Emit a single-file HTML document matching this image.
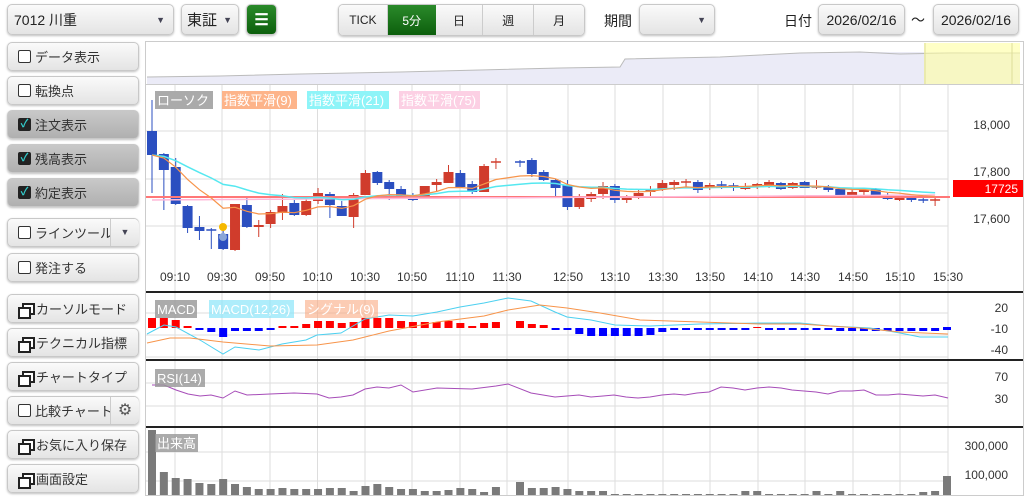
<!DOCTYPE html>
<html><head><meta charset="utf-8"><style>
*{box-sizing:border-box}
body{margin:0;width:1024px;height:499px;background:#fff;font-family:"Liberation Sans","Noto Sans CJK JP",sans-serif;position:relative;overflow:hidden;color:#222}
.b{position:absolute;border:1px solid #c8c8c8;border-radius:5px;background:linear-gradient(#fafafa,#e4e4e4);box-shadow:0 1px 2px rgba(0,0,0,.25);font-size:13px;display:flex;align-items:center}
.side{left:7px;width:132px;height:29px;padding-left:10px;color:#333}
.chk .box{width:13px;height:13px;border:1px solid #333;border-radius:2px;background:#fff;margin-right:4px;flex:none}
.on{background:linear-gradient(#c8c8c8,#b0b0b0)}
.on .box{background:#222;border-color:#222;color:#3cc;font-size:11px;line-height:11px;text-align:center;font-weight:bold}
.ic{width:14px;height:12px;position:relative;margin-right:4px;flex:none}
.ic:before{content:"";position:absolute;left:4px;top:0;width:9px;height:8px;border:2px solid #222;background:#fff}
.ic:after{content:"";position:absolute;left:0;top:4px;width:9px;height:8px;border:2px solid #222;background:#fff}
.t{position:absolute;font-size:13px}
.seg{position:absolute;top:5px;height:30px;border:1px solid #c8c8c8;background:linear-gradient(#fafafa,#e4e4e4);font-size:12px;display:flex;align-items:center;justify-content:center}
</style></head><body>
<div class="b" style="left:7px;top:4px;width:167px;height:31px;padding-left:6px;font-size:14px">7012 川重<span style="position:absolute;right:8px;font-size:9px;color:#445">▼</span></div>
<div class="b" style="left:181px;top:4px;width:58px;height:31px;padding-left:5px;font-size:15px">東証<span style="position:absolute;right:6px;font-size:9px;color:#445">▼</span></div>
<div class="b" style="left:246px;top:4px;width:31px;height:31px;background:linear-gradient(#2a8a2a,#0d5f0d);justify-content:center;color:#fff;font-size:16px;font-weight:bold">☰</div>
<div class="b" style="left:338px;top:4px;width:247px;height:32px;padding:0;overflow:hidden">
<div class="seg" style="position:static;width:49px;height:30px;border:0;border-right:1px solid #ccc">TICK</div>
<div class="seg" style="position:static;width:48px;height:30px;border:0;background:linear-gradient(#2a8a2a,#0d5f0d);color:#fff">5分</div>
<div class="seg" style="position:static;width:48px;height:30px;border:0;border-right:1px solid #ccc">日</div>
<div class="seg" style="position:static;width:51px;height:30px;border:0;border-right:1px solid #ccc">週</div>
<div class="seg" style="position:static;width:50px;height:30px;border:0">月</div></div>
<div class="t" style="left:604px;top:11px;font-size:14px">期間</div>
<div class="b" style="left:639px;top:4px;width:76px;height:31px"><span style="position:absolute;right:8px;font-size:9px;color:#445">▼</span></div>
<div class="t" style="left:784px;top:11px;font-size:14px">日付</div>
<div class="b" style="left:818px;top:4px;width:87px;height:31px;justify-content:center;font-size:14px">2026/02/16</div>
<div class="t" style="left:911px;top:10px;font-size:14px">～</div>
<div class="b" style="left:933px;top:4px;width:86px;height:31px;justify-content:center;font-size:14px">2026/02/16</div>

<div class="b side chk" style="top:42px"><span class="box"></span>データ表示</div>
<div class="b side chk" style="top:76px"><span class="box"></span>転換点</div>
<div class="b side chk on" style="top:110px"><span class="box">✓</span>注文表示</div>
<div class="b side chk on" style="top:144px"><span class="box">✓</span>残高表示</div>
<div class="b side chk on" style="top:178px"><span class="box">✓</span>約定表示</div>
<div class="b side chk" style="top:218px"><span class="box"></span>ラインツール<span style="position:absolute;left:102px;top:0;bottom:0;border-left:1px solid #ccc;width:29px;text-align:center;font-size:9px;line-height:27px;color:#445;background:linear-gradient(#fafafa,#e4e4e4);border-radius:0 5px 5px 0">▼</span></div>
<div class="b side chk" style="top:253px"><span class="box"></span>発注する</div>
<div class="b side" style="top:294px"><span class="ic"></span>カーソルモード</div>
<div class="b side" style="top:328px"><span class="ic"></span>テクニカル指標</div>
<div class="b side" style="top:362px"><span class="ic"></span>チャートタイプ</div>
<div class="b side chk" style="top:396px"><span class="box"></span>比較チャート<span style="position:absolute;left:102px;top:0;bottom:0;border-left:1px solid #ccc;width:29px;text-align:center;font-size:16px;line-height:27px;color:#555;background:linear-gradient(#fafafa,#e4e4e4);border-radius:0 5px 5px 0">⚙</span></div>
<div class="b side" style="top:430px"><span class="ic"></span>お気に入り保存</div>
<div class="b side" style="top:464px"><span class="ic"></span>画面設定</div>

<svg id="s" width="1024" height="499" style="position:absolute;left:0;top:0" font-family="Liberation Sans, Noto Sans CJK JP, sans-serif"></svg>
<script>
var S=document.getElementById('s'),h='';
function L(x1,y1,x2,y2,c,w){h+='<line x1="'+x1+'" y1="'+y1+'" x2="'+x2+'" y2="'+y2+'" stroke="'+c+'" stroke-width="'+(w||1)+'"/>';}
function R(x,y,w,hh,c){h+='<rect x="'+x+'" y="'+y+'" width="'+w+'" height="'+hh+'" fill="'+c+'"/>';}
function T(x,y,s,c,sz,a,bg,bw){if(bg){h+='<rect x="'+(x-2)+'" y="'+(y-14)+'" width="'+bw+'" height="18" fill="'+bg+'"/>';}h+='<text x="'+x+'" y="'+y+'" fill="'+c+'" font-size="'+(sz||13)+'" text-anchor="'+(a||'start')+'">'+s+'</text>';}
function P(pts,c,w){h+='<polyline fill="none" stroke="'+c+'" stroke-width="'+(w||1)+'" points="'+pts.map(function(p){return p.join(',')}).join(' ')+'"/>';}
h+='<rect x="145.5" y="41.5" width="878" height="454" fill="none" stroke="#ccc"/>';
h+='<path d="M147 84 L147 77 L220 76 L300 74 L400 72 L480 70 L560 68 L620 67 L625 59 L720 57 L760 55 L800 53 L860 52 L900 52 L950 52 L1020 53 L1020 84Z" fill="#ebebf7" stroke="none"/>';
P([[147,77],[220,76],[300,74],[400,72],[480,70],[560,68],[620,67],[625,59],[720,57],[760,55],[800,53],[860,52],[900,54],[950,53],[1020,53]],'#bbb');
R(924,43,96,41,'rgba(255,255,160,.6)');L(925,43,925,84,'#dd9');L(1012,43,1012,84,'#dd9');
L(146,84.5,1023,84.5,'#ccc');
var gx=[175,222,270,317.5,365,412,460,507,568,615,663,710,758,805,853,900,948];
var lab=['09:10','09:30','09:50','10:10','10:30','10:50','11:10','11:30','12:50','13:10','13:30','13:50','14:10','14:30','14:50','15:10','15:30'];
gx.forEach(function(x,i){L(x,85,x,495,'#ddd');T(x,281,lab[i],'#333',12,'middle');});
[131,179,226].forEach(function(y){L(146,y,948,y,'#ddd');});
T(1010,129,'18,000','#333',12,'end');T(1010,176,'17,800','#333',12,'end');T(1010,223,'17,600','#333',12,'end');
var C=[[131,155,100,193],[154,170,153,210],[167,204,158,205],[206,228,205,233],[227,231,216,240],[230,231,228,249],[234,249,227,250],[250,204,204,251],[205,227,197,228],[227,225,220,237],[224,212,210,228],[213,206,194,220],[203,215,200,216],[215,201,199,216],[201,193,188,204],[194,205,192,218],[206,216,201,216],[217,195,193,228],[195,173,170,195],[172,183,171,185],[182,189,180,200],[189,196,186,197],[195,200,193,201],[199,186,186,199],[185,182,179,192],[183,172,165,183],[173,187,170,188],[184,192,181,194],[192,166,164,192],[163,162,158,169],[162,162,160,167],[160,174,158,177],[172,180,170,181],[180,188,179,196],[185,207,180,210],[207,197,194,209],[199,194,192,202],[194,186,182,199],[186,200,184,203],[200,196,195,203],[196,193,190,199],[192,190,186,196],[189,183,180,191],[185,182,180,190],[183,182,179,187],[182,190,180,193],[188,185,183,190],[185,185,181,189],[186,186,183,191],[189,186,183,190],[187,184,183,189],[186,182,180,188],[183,189,182,190],[188,183,182,189],[182,188,181,188],[188,187,180,189],[187,190,185,192],[189,196,188,197],[195,192,190,197],[192,190,189,195],[189,195,188,197],[195,199,193,200],[200,197,195,201],[197,200,195,202],[200,200,197,203],[201,200,197,206]];
function cx(i){return i<30?152+i*11.86:520+(i-30)*11.86;}
var cl=[];
C.forEach(function(c,i){var x=cx(i),up=c[1]<c[0],col=up?'#d03c2c':'#2b4fc0';
L(x,c[2],x,c[3],col);var t=Math.min(c[0],c[1]),bh=Math.abs(c[0]-c[1]);
if(bh<1.5){L(x-5,t,x+5,t,col,1.5);}else R(x-5,t,10,bh,col);cl.push(c[1]);});
function ema(n,arr){var k=2/(n+1),r=[],v=arr[0];arr.forEach(function(a){v=a*k+v*(1-k);r.push(v);});return r;}
var E9=ema(9,cl),E21=ema(21,cl);
L(146,197,950,197,'#f77',2);
P(C.map(function(c,i){return [cx(i),(200+(i/65)*-5).toFixed(1)]}),'#ffb8d8',1.5);
P(E21.map(function(v,i){return [cx(i),v.toFixed(1)]}),'#55e8f0',1.5);
P(E9.map(function(v,i){return [cx(i),v.toFixed(1)]}),'#f7944a',1.2);
h+='<circle cx="223" cy="227" r="4" fill="#f5b800"/><circle cx="223" cy="237" r="4" fill="#8aa6d8"/>';
R(953,180,70,17,'#f00');T(1018,193,'17725','#fff',12,'end');
T(157,105,'ローソク','#fff',13,'start','#aaa',58);T(224,105,'指数平滑(9)','#fff',13,'start','#fdb48a',75);T(309,105,'指数平滑(21)','#fff',13,'start','#8ef4f8',82);T(401,105,'指数平滑(75)','#fff',13,'start','#fcd0e4',81);
[292,360,427].forEach(function(y){L(146,y,1023,y,'#222',2);});
[313,335,357].forEach(function(y){L(146,y,948,y,'#ddd');});
T(1008,312,'20','#333',12,'end');T(1008,333,'-10','#333',12,'end');T(1008,354,'-40','#333',12,'end');
var H=[10,10,8,2,-2,-4,-9,-3,-3,-3,-2,2,2,4,7,7,5,6,10,10,10,7,6,6,6,7,5,2,5,6,7,4,3,-1,-1,-6,-8,-8,-8,-8,-8,-7,-4,-2,-1,-1,-1,-1,-1,-1,1,-1,-1,-1,-1,-1,-1,-3,-3,-3,-3,-3,-3,-3,-3,-3];
H.forEach(function(v,i){var x=cx(i)-4;var y=328;if(v>0)R(x,y-v,8,v,'#f00');else R(x,y,8,Math.max(2,-v),'#00f');});
R(943,327,8,3,'#00f');
P([[147,334],[164,325],[176,327],[200,340],[223,354],[235,347],[259,350],[282,344],[306,340],[317,335],[341,333],[353,326],[365,319],[389,315],[413,316],[437,312],[460,307],[484,303],[508,298],[531,301],[555,312],[567,317],[591,320],[615,325],[650,326],[700,324],[760,323],[800,323],[830,326],[870,328],[900,333],[920,337],[948,337]],'#4cd0f0');
P([[147,343],[170,338],[190,338],[223,342],[270,346],[317,345],[353,340],[389,331],[437,322],[484,316],[508,310],[540,305],[567,308],[600,313],[640,320],[700,322],[760,324],[800,324],[860,328],[900,332],[948,334]],'#f7944a');
T(157,314,'MACD','#fff',13,'start','rgba(150,150,150,.8)',42);T(211,314,'MACD(12,26)','#fff',13,'start','rgba(140,230,250,.7)',85);T(307,314,'シグナル(9)','#fff',13,'start','rgba(250,170,130,.6)',73);
[383,406].forEach(function(y){L(146,y,948,y,'#ddd');});
T(1008,381,'70','#333',12,'end');T(1008,403,'30','#333',12,'end');
P([[152,385],[164,385],[176,390],[188,394],[200,396],[211,395],[223,398],[235,391],[247,395],[270,394],[294,393],[317,394],[329,398],[341,397],[353,395],[365,389],[377,387],[389,388],[401,385],[413,392],[437,388],[472,389],[496,386],[508,384],[531,393],[555,397],[567,396],[579,395],[591,397],[603,396],[614,395],[626,397],[638,398],[650,397],[662,395],[674,394],[685,395],[697,393],[709,392],[721,387],[733,388],[745,390],[757,388],[769,387],[781,388],[792,390],[804,391],[816,392],[828,394],[840,391],[852,391],[864,390],[876,395],[888,395],[899,394],[911,395],[923,396],[935,395],[948,398]],'#a64cb8');
T(157,383,'RSI(14)','#fff',13,'start','rgba(150,150,150,.8)',50);
[452,481].forEach(function(y){L(146,y,948,y,'#ddd');});
T(1008,450,'300,000','#333',12,'end');T(1008,479,'100,000','#333',12,'end');
var V=[430,472,478,479,483,484,479,484,487,489,489,488,489,489,489,488,488,491,486,484,487,489,489,491,491,490,488,489,492,487,482,488,488,487,489,491,491,491,494,494,494,494,494,494,494,494,494,494,494,491,491,494,494,494,494,491,494,491,494,494,494,494,494,494,492,491];
V.forEach(function(y,i){R(cx(i)-4,y,8,495-y,'#7a7a7a');});
R(943,476,8,19,'#7a7a7a');
T(157,448,'出来高','#fff',13,'start','rgba(150,150,150,.8)',43);
S.innerHTML=h;
</script>
</body></html>
